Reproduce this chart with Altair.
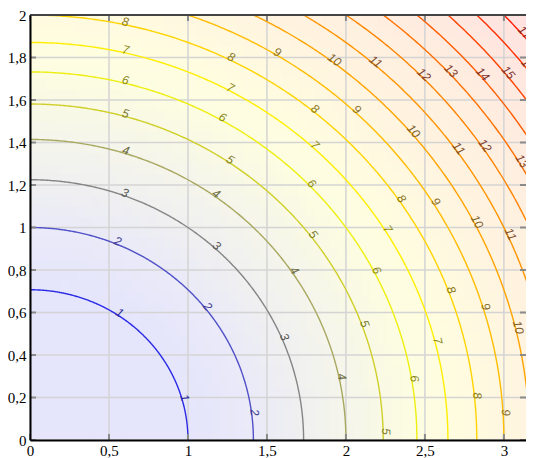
import altair as alt
import numpy as np
import pandas as pd

# ---- data (contours of f = x^2 + 2 y^2) ----
levels = list(range(1, 19))
line_colors = ["#2a2ae6", "#5050c8", "#858585", "#a8a860", "#cfcf2a", "#eeee10",
               "#ffee00", "#ffd400", "#ffbc00", "#ffa400", "#ff9500", "#ff8400",
               "#ff7000", "#ff5c00", "#ff4400", "#ff3000", "#ff1c00", "#ff0800"]
label_colors = ["#2a2aa0", "#3a3a90", "#555555", "#6a6a40", "#7a7a30", "#8a8a20",
                "#8a8a20", "#8a7a20", "#8a7030", "#806030", "#805030", "#804030",
                "#804030", "#803030", "#803030", "#803020", "#802020", "#802020"]
x_ticks = [0, 0.5, 1, 1.5, 2, 2.5, 3]
y_ticks = [0, 0.2, 0.4, 0.6, 0.8, 1, 1.2, 1.4, 1.6, 1.8, 2]
x_domain = [0, 3.14]
y_domain = [0, 2]

label_level = [1, 1,
               2, 2, 2,
               3, 3, 3,
               4, 4, 4, 4,
               5, 5, 5, 5, 5,
               6, 6, 6, 6, 6,
               7, 7, 7, 7, 7,
               8, 8, 8, 8, 8, 8,
               9, 9, 9, 9, 9,
               10, 10, 10, 10, 10,
               11, 11, 11,
               12, 12,
               13, 13,
               14, 15, 16, 17]
label_x = [0.57, 0.99,
           0.56, 1.13, 1.43,
           0.61, 1.19, 1.63,
           0.61, 1.19, 1.68, 1.99,
           0.61, 1.28, 1.80, 2.13, 2.27,
           0.61, 1.23, 1.79, 2.20, 2.45,
           0.61, 1.28, 1.82, 2.28, 2.60,
           0.61, 1.28, 1.82, 2.36, 2.68, 2.85,
           1.58, 2.09, 2.59, 2.90, 3.03,
           1.94, 2.44, 2.84, 3.09, 3.14,
           2.20, 2.73, 3.05,
           2.51, 2.89,
           2.67, 3.11,
           2.88, 3.03, 3.13, 3.12]
label_y = [0.60, 0.20,
           0.94, 0.63, 0.13,
           1.18, 0.92, 0.49,
           1.37, 1.17, 0.80, 0.30,
           1.55, 1.33, 0.97, 0.55, 0.04,
           1.71, 1.53, 1.21, 0.80, 0.29,
           1.85, 1.67, 1.40, 1.00, 0.47,
           1.99, 1.81, 1.57, 1.14, 0.71, 0.21,
           1.84, 1.57, 1.13, 0.63, 0.13,
           1.80, 1.46, 1.03, 0.53, 0.03,
           1.79, 1.38, 0.97,
           1.73, 1.39,
           1.74, 1.31,
           1.73, 1.73, 1.75, 1.91]

# ---- layout ----
W, H = 496, 425
sx = W / (x_domain[1] - x_domain[0])
sy = H / (y_domain[1] - y_domain[0])


def blend(hexc, a=0.12):
    r, g, b = (int(hexc[i:i + 2], 16) for i in (1, 3, 5))
    r, g, b = (round(255 - a * (255 - v)) for v in (r, g, b))
    return "#%02x%02x%02x" % (r, g, b)


bg_domain = [0] + levels
bg_colors = [blend(line_colors[0])] + [blend(c) for c in line_colors]

# label anchors projected onto their contour, rotated along it
ll = np.array(label_level, dtype=float)
lx = np.array(label_x)
ly = np.array(label_y)
a = np.sqrt(ll)
b = np.sqrt(ll / 2)
t = np.arctan2(ly / b, lx / a)
ang = np.degrees(np.arctan2(b * np.cos(t) * sy, a * np.sin(t) * sx))
ldf = pd.DataFrame({
    "x": a * np.cos(t),
    "y": b * np.sin(t),
    "level": label_level,
    "angle": np.mod(ang, 360),
    "lcolor": [label_colors[l - 1] for l in label_level],
})

# contour line table: each level with a run of parameter steps
steps = list(range(0, 316))
cdf = pd.DataFrame(
    [(lv, col, i) for lv, col in zip(levels, line_colors) for i in steps],
    columns=["level", "lcol", "i"],
)

xs = alt.Scale(domain=x_domain, nice=False, zero=False)
ys = alt.Scale(domain=y_domain, nice=False, zero=False)
lab_expr = "replace(toString(datum.value), '.', ',')"
xaxis = alt.Axis(values=x_ticks, title=None, grid=False, ticks=False, labelExpr=lab_expr,
                 labelFlush=False, domainColor="#000000", domainWidth=2, labelPadding=3,
                 zindex=1)
yaxis = alt.Axis(values=y_ticks, title=None, grid=False, ticks=False, labelExpr=lab_expr,
                 domainColor="#000000", domainWidth=2, labelPadding=4, zindex=1)


def X(f):
    return alt.X(f, type="quantitative", scale=xs, axis=xaxis)


def Y(f):
    return alt.Y(f, type="quantitative", scale=ys, axis=yaxis)


# background shading
bg = alt.Chart(pd.DataFrame({"k": [0]})).transform_calculate(
    gx="sequence(0, 64)").transform_flatten(["gx"]).transform_calculate(
    gy="sequence(0, 40)").transform_flatten(["gy"]).transform_calculate(
    x="datum.gx*0.05", x2="datum.gx*0.05+0.07",
    y="datum.gy*0.05", y2="datum.gy*0.05+0.07",
    f="pow(datum.gx*0.05+0.025,2)+2*pow(datum.gy*0.05+0.025,2)",
).mark_rect(clip=True, strokeWidth=0).encode(
    x=X("x"), x2="x2", y=Y("y"), y2="y2",
    fill=alt.Fill("f:Q", scale=alt.Scale(domain=bg_domain, range=bg_colors, interpolate="rgb"),
                  legend=None),
)

xgrid = alt.Chart(pd.DataFrame({"x": x_ticks})).mark_rule(color="#d4d4d4", strokeWidth=1.5).encode(
    x=X("x"))
ygrid = alt.Chart(pd.DataFrame({"y": y_ticks})).mark_rule(color="#d4d4d4", strokeWidth=1.5).encode(
    y=Y("y"))

# contour lines
lines = alt.Chart(cdf).transform_calculate(
    tt="datum.i*PI/628",
).transform_calculate(
    x="sqrt(datum.level)*cos(datum.tt)",
    y="sqrt(datum.level/2)*sin(datum.tt)",
).mark_line(clip=True, strokeWidth=1.4).encode(
    x=X("x"), y=Y("y"), detail="level:N", order="i:Q",
    stroke=alt.Stroke("lcol:N", scale=None),
)

labels = alt.Chart(ldf).mark_text(
    font="Liberation Sans", fontStyle="italic", fontSize=12, align="center",
    baseline="alphabetic", dy=1, clip=True,
).encode(
    x=X("x"), y=Y("y"), text="level:N",
    angle=alt.Angle("angle:Q", scale=None),
    fill=alt.Fill("lcolor:N", scale=None),
)

# inward tick marks and top border
tick_col = "#8a8a8a"
xt = pd.DataFrame({"x": x_ticks})
yt = pd.DataFrame({"y": y_ticks})
bot_ticks = alt.Chart(xt).mark_rule(color=tick_col, strokeWidth=2).encode(
    x=X("x"), y=alt.value(H), y2=alt.value(H - 6))
top_ticks = alt.Chart(xt).mark_rule(color=tick_col, strokeWidth=2).encode(
    x=X("x"), y=alt.value(0), y2=alt.value(6))
left_ticks = alt.Chart(yt).mark_rule(color=tick_col, strokeWidth=2).encode(
    y=Y("y"), x=alt.value(0), x2=alt.value(6))
right_ticks = alt.Chart(yt).mark_rule(color=tick_col, strokeWidth=2).encode(
    y=Y("y"), x=alt.value(W), x2=alt.value(W - 6))
top_border = alt.Chart(pd.DataFrame({"k": [0]})).mark_rule(color="#444444", strokeWidth=2).encode(
    x=alt.value(0), x2=alt.value(W), y=alt.value(0))

chart = alt.layer(
    bg, xgrid, ygrid, lines, labels, bot_ticks, top_ticks, left_ticks, right_ticks, top_border
).resolve_scale(
    fill="independent", stroke="independent"
).properties(
    width=W, height=H,
    padding={"left": 22, "top": 7, "right": 0, "bottom": 18},
    autosize=alt.AutoSizeParams(type="none"),
).configure_view(stroke=None).configure_axis(
    labelFont="Liberation Serif", labelFontSize=15, labelColor="#000000",
)

chart.save("out.html", embed_options={"renderer": "svg", "actions": False})
